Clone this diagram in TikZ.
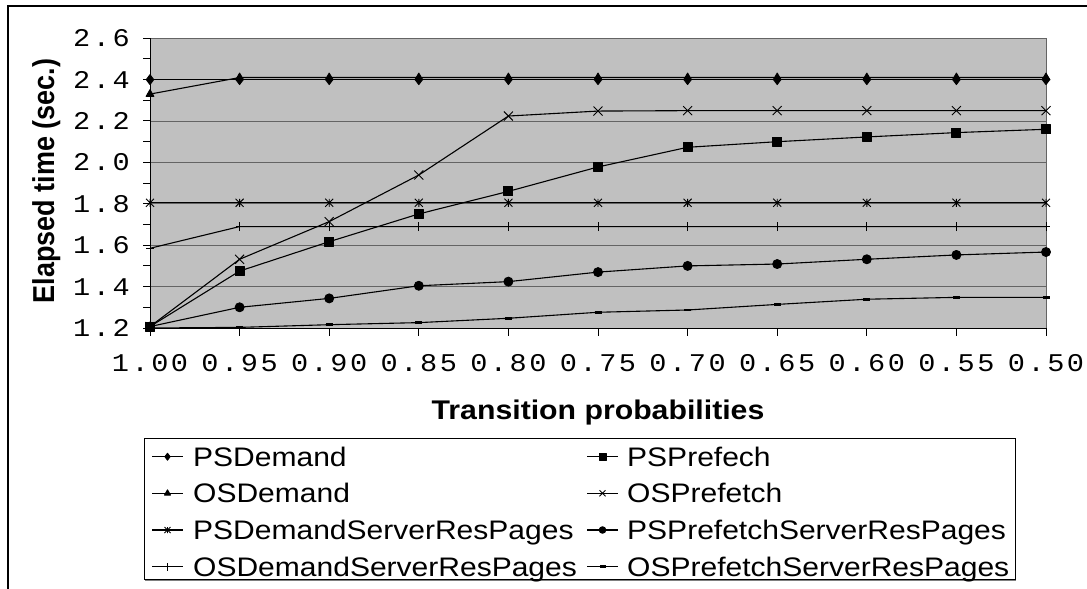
\documentclass[tikz,border=0pt]{standalone}
\usepackage{fontspec}
\setmainfont{Liberation Sans}
\newfontfamily\tickfont[LetterSpace=9]{Liberation Mono}
\usetikzlibrary{plotmarks}

% custom plot marks
\pgfdeclareplotmark{xstar}{%
  \pgfpathmoveto{\pgfpoint{-\pgfplotmarksize}{-\pgfplotmarksize}}%
  \pgfpathlineto{\pgfpoint{\pgfplotmarksize}{\pgfplotmarksize}}%
  \pgfpathmoveto{\pgfpoint{-\pgfplotmarksize}{\pgfplotmarksize}}%
  \pgfpathlineto{\pgfpoint{\pgfplotmarksize}{-\pgfplotmarksize}}%
  \pgfpathmoveto{\pgfpoint{0pt}{-\pgfplotmarksize}}%
  \pgfpathlineto{\pgfpoint{0pt}{\pgfplotmarksize}}%
  \pgfusepathqstroke}
\pgfdeclareplotmark{xcross}{%
  \pgfpathmoveto{\pgfpoint{-\pgfplotmarksize}{-\pgfplotmarksize}}%
  \pgfpathlineto{\pgfpoint{\pgfplotmarksize}{\pgfplotmarksize}}%
  \pgfpathmoveto{\pgfpoint{-\pgfplotmarksize}{\pgfplotmarksize}}%
  \pgfpathlineto{\pgfpoint{\pgfplotmarksize}{-\pgfplotmarksize}}%
  \pgfusepathqstroke}
\pgfdeclareplotmark{vplus}{%
  \pgfpathmoveto{\pgfpoint{0pt}{-\pgfplotmarksize}}%
  \pgfpathlineto{\pgfpoint{0pt}{\pgfplotmarksize}}%
  \pgfpathmoveto{\pgfpoint{-0.8\pgfplotmarksize}{0pt}}%
  \pgfpathlineto{\pgfpoint{0.8\pgfplotmarksize}{0pt}}%
  \pgfusepathqstroke}
\pgfdeclareplotmark{dashbar}{%
  \pgfpathrectanglecorners{\pgfpoint{-\pgfplotmarksize}{-1.3pt}}{\pgfpoint{\pgfplotmarksize}{1.3pt}}%
  \pgfusepathqfill}

\newcommand\hstretch[1]{\scalebox{1.12}[1]{#1}}

\definecolor{plotbg}{RGB}{192,192,192}
\definecolor{gridc}{RGB}{100,100,100}

\tikzset{
  series/.style={black, line width=1.1pt, line join=round},
  mk/.style={mark options={solid, fill=black, line width=0.9pt}},
  gridline/.style={gridc, line width=1pt},
  tick/.style={black, line width=1pt},
  ticklabel/.style={inner sep=0pt, font=\tickfont\fontsize{25.5}{28}\selectfont},
  axtitle/.style={inner sep=0pt, font=\bfseries\fontsize{27}{30}\selectfont},
  legtext/.style={inner sep=0pt, font=\fontsize{26.8}{30}\selectfont},
}

\begin{document}
\begin{tikzpicture}[x=1pt, y=-1pt]
\useasboundingbox (0,0) rectangle (1087,589);

% outer chart frame
\draw[line width=1.5pt] (8,589) -- (8,6) -- (1087,6);

% plot area, data coordinates: x = category index, y = seconds
\begin{scope}[shift={(150pt,-576.4pt)}, x=89.6pt, y=207pt]
  \fill[plotbg] (0,1.2) rectangle (10,2.6);
  \foreach \v in {1.4,1.6,1.8,2.0,2.2,2.4}
    \draw[gridline] (0,\v) -- (10,\v);
  \draw[gridline, line width=0.8pt] (0,2.6) -- (10,2.6) -- (10,1.2);
  % axes
  \draw[tick] (0,2.6) -- (0,1.2) -- (10,1.2);
  \foreach \v in {1.2,1.3,...,2.65}
    \draw[tick] ([xshift=-7pt]0,\v) -- (0,\v);
  \foreach \i in {0,...,10}
    \draw[tick] (\i,1.2) -- ([yshift=-8pt]\i,1.2);
  % tick labels
  \foreach \v/\t [count=\k] in {1.2/1.2,1.4/1.4,1.6/1.6,1.8/1.8,2.0/2.0,2.2/2.2,2.4/2.4,2.6/2.6}
    \node[ticklabel, anchor=east] (yl\k) at ([xshift=-20pt]0,\v) {\hstretch{\t}};
  \foreach \i/\t in {0/1.00,1/0.95,2/0.90,3/0.85,4/0.80,5/0.75,6/0.70,7/0.65,8/0.60,9/0.55,10/0.50}
    \node[ticklabel] (xl\i) at ([yshift=-35pt]\i,1.2) {\hstretch{\t}};

  % data series
  \draw[series, mk, mark=diamond*, mark size=5pt] plot coordinates
    {(0,2.40) (1,2.40) (2,2.40) (3,2.40) (4,2.40) (5,2.40) (6,2.40) (7,2.40) (8,2.40) (9,2.40) (10,2.40)};
  \draw[series, mk, mark=triangle*, mark size=4.5pt] plot coordinates
    {(0,2.33) (1,2.41) (2,2.41) (3,2.41) (4,2.41) (5,2.41) (6,2.41) (7,2.41) (8,2.41) (9,2.41) (10,2.41)};
  \draw[series, mk, mark=square*, mark size=4.5pt] plot coordinates
    {(0,1.207) (1,1.475) (2,1.617) (3,1.751) (4,1.86) (5,1.978) (6,2.073) (7,2.10) (8,2.123) (9,2.144) (10,2.16)};
  \draw[series, mk, mark=xcross, mark size=4.5pt] plot coordinates
    {(0,1.207) (1,1.532) (2,1.714) (3,1.939) (4,2.224) (5,2.248) (6,2.25) (7,2.25) (8,2.25) (9,2.25) (10,2.25)};
  \draw[series, mk, mark=xstar, mark size=4pt] plot coordinates
    {(0,1.805) (1,1.805) (2,1.805) (3,1.805) (4,1.805) (5,1.805) (6,1.805) (7,1.805) (8,1.805) (9,1.805) (10,1.805)};
  \draw[series, mk, mark=vplus, mark size=4.5pt] plot coordinates
    {(0,1.585) (1,1.69) (2,1.69) (3,1.69) (4,1.69) (5,1.69) (6,1.69) (7,1.69) (8,1.69) (9,1.69) (10,1.69)};
  \draw[series, mk, mark=*, mark size=4.5pt] plot coordinates
    {(0,1.207) (1,1.30) (2,1.343) (3,1.404) (4,1.424) (5,1.47) (6,1.50) (7,1.509) (8,1.532) (9,1.553) (10,1.567)};
  \draw[series, mk, mark=dashbar, mark size=3.5pt] plot coordinates
    {(0,1.20) (1,1.203) (2,1.216) (3,1.226) (4,1.247) (5,1.276) (6,1.287) (7,1.314) (8,1.339) (9,1.348) (10,1.348)};
\end{scope}

% axis titles
\node[axtitle] (ytitle) at (47,181) {\scalebox{1.12}[1]{\rotatebox{90}{Elapsed time (sec.)}}};
\node[axtitle, anchor=base] (xtitle) at (598,419) {\hstretch{Transition probabilities}};

% legend
\draw[gray, line width=1pt] (145,580.3) -- (1016,580.3);
\draw[black, line width=0.9pt] (144,438) rectangle (1015,579);
\foreach \row/\ya/\nb/\ma/\mb/\sa/\sb/\ta/\tb in {
  0/456.7/1/diamond*/square*/3.5pt/3.5pt/PSDemand/PSPrefech,
  1/493.3/2/triangle*/xcross/3.5pt/3pt/OSDemand/OSPrefetch,
  2/530/3/xstar/*/3pt/3.3pt/PSDemandServerResPages/PSPrefetchServerResPages,
  3/566.7/4/vplus/dashbar/4pt/3pt/OSDemandServerResPages/OSPrefetchServerResPages}{
  \draw[series] (152,\ya) -- (183,\ya);
  \draw[series, mk, mark=\ma, mark size=\sa] plot coordinates {(167.5,\ya)};
  \draw[series] (587,\ya) -- (618,\ya);
  \draw[series, mk, mark=\mb, mark size=\sb] plot coordinates {(602.5,\ya)};
  \node[legtext, anchor=base west] (la\nb) at (193,\ya+9.5) {\hstretch{\ta}};
  \node[legtext, anchor=base west] (lb\nb) at (627,\ya+9.5) {\hstretch{\tb}};
}
\end{tikzpicture}
\end{document}
